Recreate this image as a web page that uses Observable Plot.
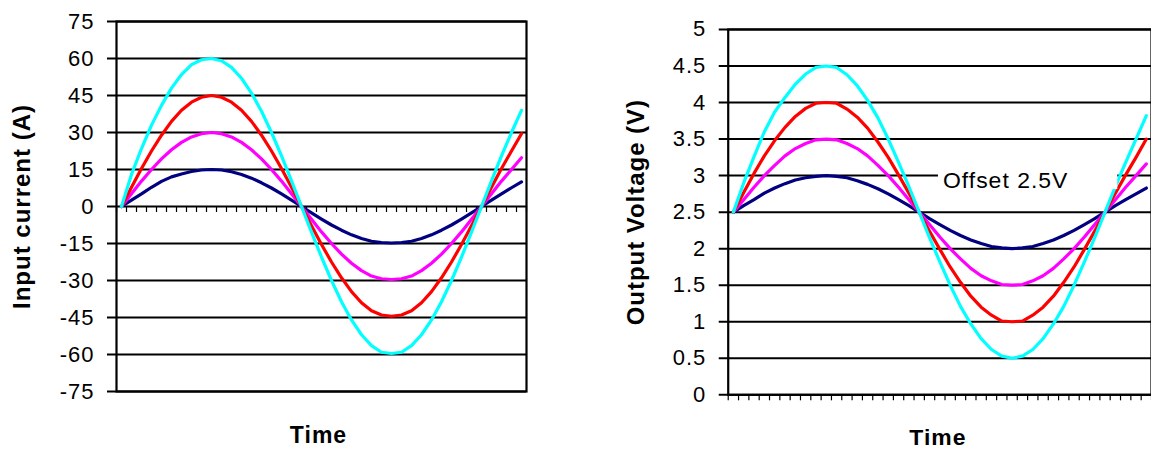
<!DOCTYPE html>
<html><head><meta charset="utf-8">
<script src="https://cdn.jsdelivr.net/npm/d3@7"></script>
<script src="https://cdn.jsdelivr.net/npm/@observablehq/plot@0.6"></script>
<style>
html,body{margin:0;padding:0;background:#fff;overflow:hidden;}
#wrap{position:relative;width:1151px;height:450px;overflow:hidden;background:#fff;}
#left{position:absolute;left:0;top:0;}
#right{position:absolute;left:560px;top:0;}
svg text{letter-spacing:1px;}
</style></head><body>
<div id="wrap"><div id="left"></div><div id="right"></div></div>
<script>
// ---- series (41 samples each) ----
const seriesNames = ["navy", "magenta", "red", "cyan"];
const seriesColors = ["#000080", "#ff00ff", "#ff0000", "#00ffff"];

const currentNavy = [0, 2.6, 5.1, 7.8, 10.2, 12.0, 13.2, 14.2, 14.8, 15, 14.8, 14.1, 13.0, 11.5, 9.6, 7.5, 5.1, 2.6, 0, -2.6, -5.1, -7.5, -9.6, -11.5, -13.0, -14.1, -14.6, -14.8, -14.6, -14.1, -13.0, -11.5, -9.6, -7.5, -5.1, -2.6, 0, 2.6, 5.1, 7.6, 10.0];
const currentMagenta = [0, 5.2, 10.3, 15, 19.3, 23, 26, 28.2, 29.5, 30, 29.5, 28.2, 26, 23, 19.3, 15, 10.3, 5.2, 0, -5.2, -10.3, -15, -19.3, -23, -26, -28.2, -29.3, -29.6, -29.3, -28.2, -26, -23, -19.3, -15, -10.3, -5.2, 0, 5.2, 10.3, 15, 19.8];
const currentRed = [0, 7.8, 15.4, 22.5, 28.9, 34.5, 39, 42.3, 44.3, 45, 44.3, 42.3, 39, 34.5, 28.9, 22.5, 15.4, 7.8, 0, -7.8, -15.4, -22.5, -28.9, -34.5, -39, -42.3, -44, -44.5, -44, -42.3, -39, -34.5, -28.9, -22.5, -15.4, -7.8, 0, 7.8, 15.4, 22.5, 29.5];
const currentCyan = [0, 13, 23.5, 33, 41, 48, 53.5, 57.5, 59.5, 60, 59.1, 56.4, 52, 46, 38.6, 30, 20.5, 10.4, 0, -10.4, -20.5, -30, -38.6, -46, -52, -56.4, -59.1, -59.6, -59.1, -56.4, -52, -46, -38.6, -30, -20.5, -10.4, 0, 10.4, 20.5, 30, 39];

const voltageNavy = [2.5, 2.59, 2.67, 2.76, 2.83, 2.89, 2.94, 2.97, 2.99, 3.0, 2.99, 2.97, 2.93, 2.88, 2.82, 2.75, 2.67, 2.59, 2.5, 2.41, 2.33, 2.25, 2.18, 2.12, 2.07, 2.03, 2.01, 2.0, 2.01, 2.03, 2.07, 2.12, 2.18, 2.25, 2.33, 2.41, 2.5, 2.59, 2.67, 2.75, 2.83];
const voltageMagenta = [2.5, 2.67, 2.84, 3.0, 3.14, 3.27, 3.37, 3.44, 3.49, 3.5, 3.49, 3.44, 3.37, 3.27, 3.14, 3.0, 2.84, 2.67, 2.5, 2.33, 2.16, 2.0, 1.86, 1.73, 1.63, 1.56, 1.51, 1.5, 1.51, 1.56, 1.63, 1.73, 1.86, 2.0, 2.16, 2.33, 2.5, 2.67, 2.84, 3.0, 3.16];
const voltageRed = [2.5, 2.77, 3.03, 3.27, 3.48, 3.66, 3.81, 3.92, 3.99, 4.0, 3.99, 3.91, 3.80, 3.65, 3.46, 3.25, 3.01, 2.76, 2.5, 2.24, 1.99, 1.75, 1.54, 1.35, 1.20, 1.09, 1.01, 1.0, 1.01, 1.09, 1.20, 1.35, 1.54, 1.75, 1.99, 2.24, 2.5, 2.76, 3.01, 3.25, 3.5];
const voltageCyan = [2.5, 2.9, 3.26, 3.6, 3.87, 4.07, 4.25, 4.39, 4.48, 4.5, 4.48, 4.38, 4.23, 4.03, 3.79, 3.5, 3.18, 2.85, 2.5, 2.15, 1.82, 1.5, 1.21, 0.97, 0.77, 0.62, 0.53, 0.5, 0.53, 0.62, 0.77, 0.97, 1.21, 1.5, 1.82, 2.15, 2.5, 2.85, 3.18, 3.5, 3.82];

// ---- axis ticks & labels ----
const yTicksCurrent = [-75, -60, -45, -30, -15, 0, 15, 30, 45, 60, 75];
const yTicksVoltage = [0, 0.5, 1, 1.5, 2, 2.5, 3, 3.5, 4, 4.5, 5];
const xLabel = "Time";
const yLabelCurrent = "Input current (A)";
const yLabelVoltage = "Output Voltage (V)";
const offsetLabel = "Offset 2.5V";
const offsetLabelAt = {x: 20.3, y: 2.93};

const nSamples = currentNavy.length;
const categoryEdges = d3.range(-0.5, nSamples, 1);

function tidy(arrays) {
  const rows = [];
  arrays.forEach((arr, s) => arr.forEach((v, i) => rows.push({i, v, s: seriesNames[s]})));
  return rows;
}
const currentData = tidy([currentNavy, currentMagenta, currentRed, currentCyan]);
const voltageData = tidy([voltageNavy, voltageMagenta, voltageRed, voltageCyan]);

const fontFamily = "'Liberation Sans', Arial, Helvetica, sans-serif";

function panel(o) {
  return Plot.plot({
    width: o.width, height: 450,
    marginLeft: o.marginLeft, marginRight: o.marginRight,
    marginTop: o.marginTop, marginBottom: o.marginBottom,
    style: {fontFamily, fontSize: "22px", color: "#000", background: "transparent", overflow: "visible"},
    x: {domain: [-0.5, nSamples - 0.5], axis: null},
    y: {domain: o.yDomain, ticks: o.yTicks, tickSize: 0, tickPadding: 22, tickFormat: d => String(d), label: null},
    color: {domain: seriesNames, range: seriesColors},
    marks: [
      Plot.ruleY(o.yTicks, {y: d => d, stroke: "#000", strokeWidth: 2, insetLeft: -9}),
      Plot.ruleX(categoryEdges, {x: d => d, y1: o.xTickAt, y2: o.xTickAt, insetBottom: -6, stroke: "#000", strokeWidth: 1.2}),
      Plot.line(o.data, {x: "i", y: "v", z: "s", stroke: "s", strokeWidth: 3.2, strokeLinejoin: "round", strokeLinecap: "round"}),
      Plot.frame({stroke: "#000", strokeWidth: 2.2}),
      Plot.text([o.yLabel], {text: d => d, frameAnchor: "left", textAnchor: "middle", dx: o.yLabelDx, rotate: -90, fontWeight: "bold", fontSize: 24}),
      Plot.text([xLabel], {text: d => d, frameAnchor: "bottom", textAnchor: "middle", dx: o.xLabelDx, dy: o.xLabelDy, lineAnchor: "bottom", fontWeight: "bold", fontSize: 23}),
      ...(o.extra || [])
    ]
  });
}

const left = panel({
  width: 560, marginLeft: 116, marginRight: 34, marginTop: 21, marginBottom: 59,
  yDomain: [-75, 75], yTicks: yTicksCurrent, data: currentData, xTickAt: 0,
  yLabel: yLabelCurrent, yLabelDx: -94, xLabelDx: -3, xLabelDy: 51
});
document.getElementById("left").appendChild(left);

const right = panel({
  width: 592, marginLeft: 168, marginRight: 0, marginTop: 29, marginBottom: 55,
  yDomain: [0, 5], yTicks: yTicksVoltage, data: voltageData, xTickAt: 0,
  yLabel: yLabelVoltage, yLabelDx: -92, xLabelDx: -2, xLabelDy: 50,
  extra: [Plot.text([offsetLabel], {text: d => d, x: () => offsetLabelAt.x, y: () => offsetLabelAt.y, textAnchor: "start", lineAnchor: "middle", fontSize: 23})]
});
document.getElementById("right").appendChild(right);

// white box behind the annotation (it hides the gridline like the original text box)
const offText = Array.from(right.querySelectorAll("text")).find(t => t.textContent === offsetLabel);
if (offText) {
  const bb = offText.getBBox();
  const g = offText.parentNode;
  const rect = document.createElementNS("http://www.w3.org/2000/svg", "rect");
  const pt = right.createSVGPoint();
  pt.x = bb.x; pt.y = bb.y;
  const m = offText.transform.baseVal.consolidate();
  const p0 = m ? pt.matrixTransform(m.matrix) : pt;
  rect.setAttribute("x", p0.x - 5);
  rect.setAttribute("y", p0.y - 1);
  rect.setAttribute("width", bb.width + 54);
  rect.setAttribute("height", bb.height - 3);
  rect.setAttribute("fill", "#fff");
  g.insertBefore(rect, offText);
}
</script>
</body></html>
